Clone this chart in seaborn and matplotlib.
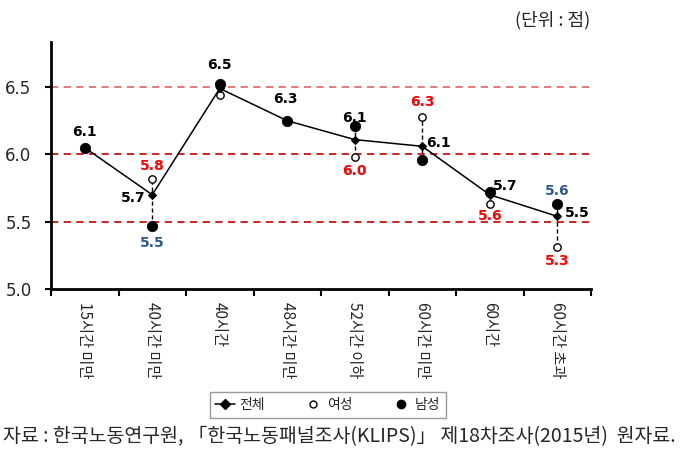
import matplotlib
matplotlib.use("Agg")
import matplotlib.pyplot as plt
import seaborn as sns
import pandas as pd
from matplotlib.lines import Line2D

# ---------------- data ----------------
categories = ["15시간 미만", "40시간 미만", "40시간", "48시간 미만",
              "52시간 이하", "60시간 미만", "60시간", "60시간 초과"]
total = [6.05, 5.70, 6.49, 6.25, 6.11, 6.06, 5.70, 5.54]
female = [6.05, 5.82, 6.44, 6.25, 5.98, 6.28, 5.63, 5.31]
male = [6.05, 5.47, 6.52, 6.25, 6.21, 5.96, 5.72, 5.63]

total_lbl = ["6.1", "5.7", "6.5", "6.3", "6.1", "6.1", "5.7", "5.5"]
female_lbl = [None, "5.8", None, None, "6.0", "6.3", "5.6", "5.3"]
male_lbl = [None, "5.5", None, None, None, None, None, "5.6"]

y_ticks = [5.0, 5.5, 6.0, 6.5]
ref_lines = [5.5, 6.0, 6.5]
legend_names = ["전체", "여성", "남성"]
unit_text = "(단위 : 점)"
source_text = "자료 : 한국노동연구원, 「한국노동패널조사(KLIPS)」 제18차조사(2015년)  원자료."

# ---------------- layout / style ----------------
# label offsets in pixels (dx, dy) relative to the point they annotate
total_off = [(0, 16), (-19, -3), (0, 23), (-2, 22), (0, 22), (16, 3), (15, 9), (20, 3)]
female_off = [None, (0, 13), None, None, (0, -14), (0, 15), (0, -12), (0, -14)]
male_off = [None, (0, -17), None, None, None, None, None, (0, 13)]

RED = "#FF0000"
BLUE = "#2E5A96"

sns.set_theme(style="white")
plt.rcParams["font.family"] = ["Noto Sans CJK KR", "DejaVu Sans"]

W, H = 690, 473
fig = plt.figure(figsize=(W / 100, H / 100), dpi=100)
ax = fig.add_axes([51 / W, 1 - 289 / H, 540 / W, (289 - 42) / H])

df = pd.DataFrame({"cat": categories, "total": total,
                   "female": female, "male": male})

# reference dashed lines
for v in ref_lines:
    col = "#E07070" if v == 6.5 else "#D01010"
    ax.axhline(v, color=col, lw=1.3, ls=(0, (4, 3)), zorder=1)

# vertical dashed connectors female-male
lo = [min(a, b, c) for a, b, c in zip(total, female, male)]
hi = [max(a, b, c) for a, b, c in zip(total, female, male)]
ax.vlines(list(range(len(categories))), lo, hi, color="black", lw=1.0,
          ls=(0, (3, 2)), zorder=2)

sns.lineplot(data=df, x="cat", y="total", ax=ax, color="black", lw=1.1,
             marker="D", markersize=4.5, markeredgecolor="black", sort=False,
             zorder=5)
sns.scatterplot(data=df, x="cat", y="female", ax=ax, marker="o", s=28,
                facecolor="white", edgecolor="black", linewidth=1.0, zorder=4)
sns.scatterplot(data=df, x="cat", y="male", ax=ax, marker="o", s=55,
                color="black", edgecolor="black", zorder=3)

ax.set_xlim(-0.5, len(categories) - 0.5)
ax.set_ylim(5.0, 6.835)
ax.set_yticks(y_ticks)
ax.set_yticklabels([f"{t:.1f}" for t in y_ticks], family="DejaVu Sans",
                   fontsize=12)
ax.set_xticks(range(len(categories)))
ax.set_xticklabels(categories, rotation=-90, fontsize=11, va="top", ha="center")
ax.set_xticks([i - 0.5 for i in range(len(categories) + 1)], minor=True)
ax.tick_params(axis="x", which="major", length=0, pad=9)
ax.tick_params(axis="x", which="minor", length=5, width=1.5, direction="out",
               color="black", bottom=True)
ax.tick_params(axis="y", length=4, width=1.5, direction="out", color="black",
               left=True, pad=10)
ax.set_xlabel("")
ax.set_ylabel("")
for s in ["top", "right"]:
    ax.spines[s].set_visible(False)
for s in ["left", "bottom"]:
    ax.spines[s].set_color("black")
    ax.spines[s].set_linewidth(2)

lab_kw = dict(textcoords="offset pixels", ha="center", va="center",
              fontsize=10, fontweight="bold", family="DejaVu Sans", zorder=6)
for i in range(len(categories)):
    if total_lbl[i]:
        ax.annotate(total_lbl[i], (i, total[i]), xytext=total_off[i],
                    color="black", **lab_kw)
    if female_lbl[i]:
        ax.annotate(female_lbl[i], (i, female[i]), xytext=female_off[i],
                    color=RED, **lab_kw)
    if male_lbl[i]:
        ax.annotate(male_lbl[i], (i, male[i]), xytext=male_off[i],
                    color=BLUE, **lab_kw)

if ax.get_legend():
    ax.get_legend().remove()
handles = [
    Line2D([], [], color="black", lw=1.1, marker="D", markersize=5),
    Line2D([], [], color="none", marker="o", markersize=5,
           markerfacecolor="white", markeredgecolor="black"),
    Line2D([], [], color="none", marker="o", markersize=6,
           markerfacecolor="black", markeredgecolor="black"),
]
leg = fig.legend(handles, legend_names, loc="center",
                 bbox_to_anchor=(328 / W, 1 - 405 / H), ncol=3, fontsize=10,
                 frameon=True, fancybox=False, edgecolor="#808080",
                 handlelength=1.4, handletextpad=0.3, columnspacing=2.8,
                 borderpad=0.4)
leg.get_frame().set_linewidth(1.0)

fig.text(590 / W, 1 - 20 / H, unit_text, ha="right", va="center", fontsize=13)
fig.text(3 / W, 1 - 437 / H, source_text, ha="left", va="center", fontsize=14)

fig.savefig("out.png", dpi=100)
